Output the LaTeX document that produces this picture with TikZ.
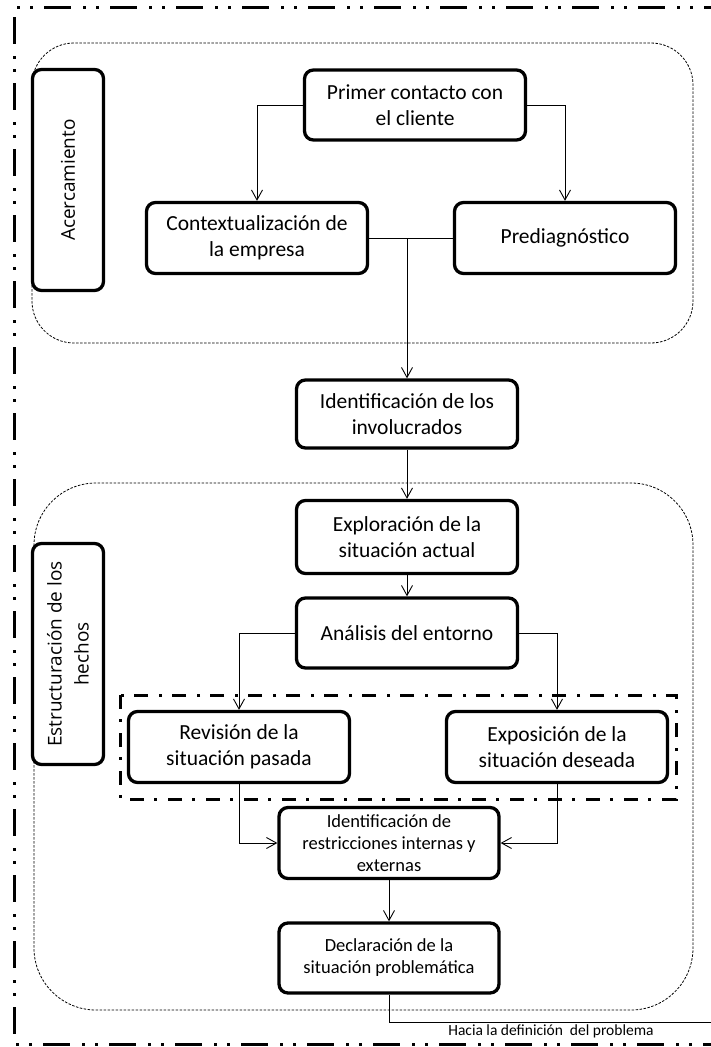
\documentclass[tikz,border=0pt]{standalone}
\usepackage{fontspec}
\setmainfont{Carlito}
\newfontfamily\ladofont{Open Sans}
\usetikzlibrary{arrows.meta}

\begin{document}
\begin{tikzpicture}[x=1pt,y=-1pt,
	caja/.style={draw,fill=white,line width=3.3pt,rounded corners=9pt,align=center,minimum width=221pt,minimum height=71pt,font=\fontsize{21.5}{26}\selectfont},
	chica/.style={caja,font=\fontsize{18.5}{22}\selectfont},
	lado/.style={draw,fill=white,line width=3.3pt,rounded corners=9pt,align=center,rotate=90,minimum width=221pt,minimum height=71pt,font=\ladofont\fontsize{19}{27}\selectfont},
	flecha/.style={line width=0.9pt,-{Straight Barb[length=10pt,width=11pt]}},
	linea/.style={line width=0.9pt},
	zona/.style={line width=0.8pt,dash pattern=on 2.5pt off 1.5pt},
	marco/.style={line width=3pt,dash pattern=on 27pt off 12pt on 3pt off 10pt on 3pt off 11pt},
	grupo/.style={line width=3pt,dash pattern=on 14pt off 10pt on 3pt off 11pt}]
			\useasboundingbox (0,0) rectangle (711,1047);
			\draw[marco,dash phase=36pt] (14,7) -- (711,7);
			\draw[marco,dash phase=56pt] (14,7) -- (14,1044) -- (711,1044);
			\draw[zona,rounded corners=42pt] (32,43) rectangle (693,343);
			\draw[zona,rounded corners=62pt] (34,483) rectangle (693,1010);
			\draw[grupo] (120,695) rectangle (676,799);
			\node[lado] (acercamiento) at (68,180) {Acercamiento};
			\node[lado] (estructuracion) at (68,654) {Estructuración de los\\hechos};
			\node[caja,minimum height=70pt] (primer) at (415,105) {Primer contacto con\\el cliente};
			\node[caja] (contexto) at (257,238) {Contextualización de\\la empresa};
			\node[caja] (prediag) at (565,238) {Prediagnóstico};
			\node[caja,minimum height=68pt] (involucrados) at (407,414) {Identificación de los\\involucrados};
			\node[caja,minimum height=73pt] (exploracion) at (407,537) {Exploración de la\\situación actual};
			\node[caja,minimum height=70pt] (analisis) at (407,633) {Análisis del entorno};
			\node[caja] (revision) at (239,747) {Revisión de la\\situación pasada};
			\node[caja] (exposicion) at (557,747) {Exposición de la\\situación deseada};
			\node[chica,minimum width=220pt] (restricciones) at (389,843) {Identificación de\\restricciones internas y\\externas};
			\node[chica,minimum width=220pt,minimum height=70pt] (declaracion) at (389,958) {Declaración de la\\situación problemática};
			\node[font=\fontsize{15.5}{18}\selectfont] (hacia) at (551,1031) {Hacia la definición\ \ del problema};
			\coordinate (salida) at (711,1022);
			\draw[flecha] (primer.west) -| (contexto.north);
			\draw[flecha] (primer.east) -| (prediag.north);
			\draw[linea] (contexto.east) -- (prediag.west);
			\draw[flecha] (contexto.east -| involucrados.north) -- (involucrados.north);
			\draw[flecha] (involucrados) -- (exploracion);
			\draw[flecha] (exploracion) -- (analisis);
			\draw[flecha] (analisis.west) -| (revision.north);
			\draw[flecha] (analisis.east) -| (exposicion.north);
			\draw[flecha] (revision.south) |- (restricciones.west);
			\draw[flecha] (exposicion.south) |- (restricciones.east);
			\draw[flecha] (restricciones) -- (declaracion);
			\draw[linea] (declaracion.south) |- (salida);
		\end{tikzpicture}
\end{document}
